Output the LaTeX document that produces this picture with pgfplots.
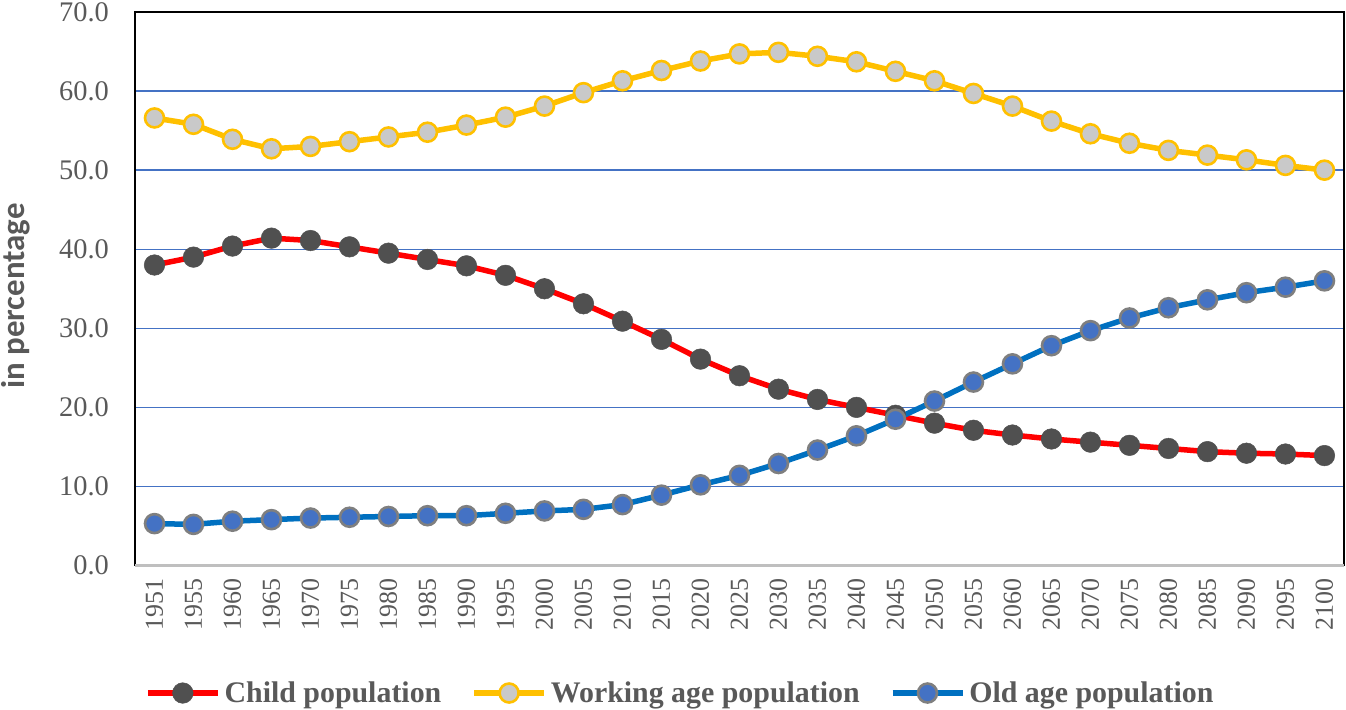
\documentclass[border=0pt]{standalone}
\usepackage{fontspec}
\setmainfont{Liberation Serif}
\newfontfamily\calibri{Carlito}
\usepackage{pgfplots}
\pgfplotsset{compat=1.18}
\definecolor{cgray}{HTML}{595959}
\definecolor{cgrid}{HTML}{4472C4}
\definecolor{cred}{HTML}{FF0000}
\definecolor{cdark}{HTML}{505050}
\definecolor{cyel}{HTML}{FFC000}
\definecolor{clgray}{HTML}{C9C9C9}
\definecolor{cblue}{HTML}{0070C0}
\definecolor{cmblue}{HTML}{4472C4}
\definecolor{cedge}{HTML}{7F7F7F}
\definecolor{cbot}{HTML}{BFBFBF}
\begin{document}
\begin{tikzpicture}
\useasboundingbox (-135bp,-144.5bp) rectangle (1211bp,565.5bp);
\begin{axis}[
  at={(0,0)}, anchor=south west,
  scale only axis, width=1209bp, height=553.5bp,
  xmin=-0.5, xmax=30.5, ymin=0, ymax=70,
  xtick={0,...,30},
  xticklabels={1951,1955,1960,1965,1970,1975,1980,1985,1990,1995,2000,2005,2010,2015,2020,2025,2030,2035,2040,2045,2050,2055,2060,2065,2070,2075,2080,2085,2090,2095,2100},
  ytick={0,10,...,70},
  major tick length=0pt,
  ymajorgrids, grid style={cgrid, line width=1.3bp},
  axis line style={black, line width=1.8bp},
  tick label style={text=cgray, inner sep=0pt},
  /pgf/number format/assume math mode=true,
  yticklabel style={font=\rmfamily\fontsize{28.5}{28.5}\selectfont, /pgf/number format/fixed, /pgf/number format/fixed zerofill, /pgf/number format/precision=1},
  xticklabel style={font=\rmfamily\fontsize{26}{26}\selectfont, rotate=90, anchor=east},
  xticklabel shift=12.5bp, yticklabel shift=26bp,
  ylabel={in percentage},
  every axis y label/.style={at={(rel axis cs:-0.0918,0.487)}, rotate=90, anchor=base, inner sep=0pt, font=\calibri\bfseries\fontsize{33}{33}\selectfont, text=cgray},
  legend style={at={(0.451,-0.2304)}, anchor=center, draw=none, fill=none, legend columns=3,
    font=\bfseries\fontsize{30}{30}\selectfont, text=cgray,
    /tikz/every even column/.append style={column sep=28bp},
    /tikz/every odd column/.append style={column sep=2bp}},
  legend cell align=left,
  legend image code/.code={\draw[mark repeat=2, mark phase=2, #1] plot coordinates {(0bp,0bp) (35bp,0bp) (70bp,0bp)};},
  clip=false,
]
\addplot[cred, line width=5.5bp, mark=*, mark size=10.3bp, mark options={fill=cdark, draw=cdark, line width=0.5bp}]
coordinates {(0,38.0)(1,39.0)(2,40.4)(3,41.4)(4,41.1)(5,40.3)(6,39.5)(7,38.7)(8,37.9)(9,36.7)(10,35.0)(11,33.1)(12,30.9)(13,28.6)(14,26.1)(15,24.0)(16,22.3)(17,21.0)(18,20.0)(19,19.0)(20,18.0)(21,17.1)(22,16.5)(23,16.0)(24,15.6)(25,15.2)(26,14.8)(27,14.4)(28,14.2)(29,14.1)(30,13.9)};
\addlegendentry{Child population}
\addplot[cyel, line width=5.5bp, mark=*, mark size=9.5bp, mark options={fill=clgray, draw=cyel, line width=2.6bp}]
coordinates {(0,56.6)(1,55.8)(2,53.9)(3,52.7)(4,53.0)(5,53.6)(6,54.2)(7,54.8)(8,55.7)(9,56.7)(10,58.1)(11,59.8)(12,61.3)(13,62.6)(14,63.8)(15,64.7)(16,64.9)(17,64.4)(18,63.7)(19,62.5)(20,61.3)(21,59.7)(22,58.1)(23,56.2)(24,54.6)(25,53.4)(26,52.5)(27,51.9)(28,51.3)(29,50.6)(30,50.0)};
\addlegendentry{Working age population}
\addplot[cblue, line width=5.5bp, mark=*, mark size=9.5bp, mark options={fill=cmblue, draw=cedge, line width=2.6bp}]
coordinates {(0,5.3)(1,5.2)(2,5.6)(3,5.8)(4,6.0)(5,6.1)(6,6.2)(7,6.3)(8,6.3)(9,6.6)(10,6.9)(11,7.1)(12,7.7)(13,8.9)(14,10.2)(15,11.4)(16,12.9)(17,14.6)(18,16.4)(19,18.5)(20,20.8)(21,23.2)(22,25.5)(23,27.8)(24,29.7)(25,31.3)(26,32.6)(27,33.6)(28,34.5)(29,35.2)(30,36.0)};
\addlegendentry{Old age population}
\draw[cbot, line width=2.2bp] (rel axis cs:0,0) -- (rel axis cs:1,0);
\end{axis}
\end{tikzpicture}
\end{document}
